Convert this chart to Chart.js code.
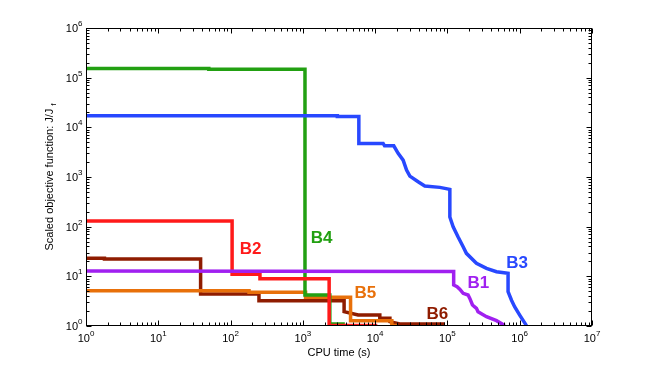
<!DOCTYPE html>
<html>
<head>
<meta charset="utf-8">
<script src="https://cdn.jsdelivr.net/npm/chart.js@4"></script>
<style>
  html, body { margin: 0; padding: 0; background: #fff; }
  #wrap { width: 654px; height: 367px; }
</style>
</head>
<body>
<div id="wrap"><canvas id="c" width="654" height="367"></canvas></div>
<script>
// Series (CPU time in s, scaled objective J/Jf).
const b1Time = [1, 1.22e5, 1.22e5, 1.36e5, 1.48e5, 1.65e5, 1.93e5, 2.04e5, 2.22e5, 2.52e5, 2.65e5, 3.47e5, 4.77e5, 6.2e5];
const b1Obj  = [12.8, 12.5, 6.7, 6.2, 5.5, 4.55, 4.2, 3.6, 2.65, 2.27, 1.94, 1.54, 1.28, 1.02];

const b2Time = [1, 105, 105, 255, 255, 2310, 2310, 1.07e4];
const b2Obj  = [130, 130, 11, 11, 8.9, 8.9, 1.02, 1.02];

const b3Time = [1, 3000, 3000, 5950, 5950, 1.29e4, 1.35e4, 1.81e4, 2.08e4, 2.44e4, 2.72e4, 3.02e4, 3.93e4, 4.86e4, 7.84e4, 1.08e5, 1.08e5, 1.2e5, 1.4e5, 1.65e5, 1.83e5, 2.52e5, 3.47e5, 4.77e5, 6.9e5, 6.9e5, 7.7e5, 8.5e5, 1.0e6, 1.24e6];
const b3Obj  = [1.72e4, 1.72e4, 1.65e4, 1.65e4, 4750, 4750, 4250, 4250, 2990, 2190, 1380, 1040, 800, 656, 618, 563, 156, 99.5, 62.7, 39.4, 29, 18.3, 14.5, 12.4, 11.5, 4.9, 3.3, 2.44, 1.66, 1.02];

const b4Time = [1, 50, 50, 1070, 1070, 2360, 2360, 3810];
const b4Obj  = [1.53e5, 1.53e5, 1.48e5, 1.48e5, 4.2, 4.2, 1.1, 1.1];

const b5Time = [1, 180, 180, 1090, 1090, 4570, 4570, 1.7e4, 1.7e4, 2.0e4];
const b5Obj  = [5.15, 5.15, 4.8, 4.8, 3.8, 3.8, 1.28, 1.28, 1.02, 1.02];

const b6Time = [1, 1.8, 1.8, 38.5, 38.5, 247, 247, 3720, 3720, 5820, 1.16e4, 1.16e4, 1.6e4, 1.6e4, 2.19e4, 9.2e4];
const b6Obj  = [23, 23, 22.3, 22.3, 4.4, 4.4, 3.23, 3.23, 1.94, 1.66, 1.66, 1.43, 1.43, 1.22, 1.1, 1.1];

const seriesNames  = ['B1', 'B2', 'B3', 'B4', 'B5', 'B6'];
const seriesTimes  = [b1Time, b2Time, b3Time, b4Time, b5Time, b6Time];
const seriesObjs   = [b1Obj, b2Obj, b3Obj, b4Obj, b5Obj, b6Obj];
const seriesColors = ['#a020f0', '#ff1a1a', '#2848ff', '#22a012', '#e8700a', '#8f1c00'];

// where each curve's name sits, in data units (left edge, baseline)
const nameTime = [1.89e5, 134, 6.53e5, 1282, 5190, 5.13e4];
const nameObj  = [5.93, 28.6, 15, 47.5, 3.73, 1.41];

const xTickExps = [0, 1, 2, 3, 4, 5, 6, 7];
const yTickExps = [0, 1, 2, 3, 4, 5, 6];
const xTitle = 'CPU time (s)';
const yTitle = 'Scaled objective function: J/J';
const yTitleSub = 'f';

const FONT = '"Liberation Sans", Arial, Helvetica, sans-serif';

const datasets = seriesNames.map(function (name, i) {
    return {
        label: name,
        data: seriesTimes[i].map(function (t, j) { return { x: t, y: seriesObjs[i][j] }; }),
        showLine: true,
        borderColor: seriesColors[i],
        backgroundColor: seriesColors[i],
        borderWidth: 3.5,
        pointRadius: 0,
        tension: 0
    };
});

// MATLAB-style box, inward ticks, 10^n labels and annotations.
const frame = {
    id: 'frame',
    afterDatasetsDraw(chart) {
        const ctx = chart.ctx;
        const a = chart.chartArea;
        const x = chart.scales.x, y = chart.scales.y;
        const L = Math.round(a.left) + 0.5, R = Math.round(a.right) - 0.5;
        const T = Math.round(a.top) + 0.5, B = Math.round(a.bottom) - 0.5;
        ctx.save();

        // curve names
        ctx.font = 'bold 17px ' + FONT;
        ctx.textAlign = 'left';
        ctx.textBaseline = 'alphabetic';
        seriesNames.forEach(function (n, i) {
            ctx.fillStyle = seriesColors[i];
            ctx.fillText(n, x.getPixelForValue(nameTime[i]), y.getPixelForValue(nameObj[i]));
        });

        ctx.strokeStyle = '#000';
        ctx.lineWidth = 1;
        ctx.strokeRect(L, T, R - L, B - T);

        ctx.beginPath();
        xTickExps.forEach(function (e) {
            for (let m = 1; m <= 9; m++) {
                if (e === xTickExps[xTickExps.length - 1] && m > 1) break;
                const px = Math.round(x.getPixelForValue(m * Math.pow(10, e))) + 0.5;
                const len = m === 1 ? 5 : 3;
                ctx.moveTo(px, B); ctx.lineTo(px, B - len);
                ctx.moveTo(px, T); ctx.lineTo(px, T + len);
            }
        });
        yTickExps.forEach(function (e) {
            for (let m = 1; m <= 9; m++) {
                if (e === yTickExps[yTickExps.length - 1] && m > 1) break;
                const py = Math.round(y.getPixelForValue(m * Math.pow(10, e))) + 0.5;
                const len = m === 1 ? 5 : 3;
                ctx.moveTo(L, py); ctx.lineTo(L + len, py);
                ctx.moveTo(R, py); ctx.lineTo(R - len, py);
            }
        });
        ctx.stroke();

        // tick labels
        ctx.fillStyle = '#000';
        const big = '11px ' + FONT, small = '8px ' + FONT;
        xTickExps.forEach(function (e) {
            const px = x.getPixelForValue(Math.pow(10, e));
            ctx.font = big; const w1 = ctx.measureText('10').width;
            ctx.font = small; const w2 = ctx.measureText(String(e)).width;
            const sx = px - (w1 + w2) / 2;
            ctx.font = big; ctx.textAlign = 'left';
            ctx.fillText('10', sx, 342);
            ctx.font = small;
            ctx.fillText(String(e), sx + w1, 336);
        });
        yTickExps.forEach(function (e) {
            const py = y.getPixelForValue(Math.pow(10, e));
            ctx.font = small; const w2 = ctx.measureText(String(e)).width;
            const ex = L - 4 - w2;
            ctx.textAlign = 'left';
            ctx.fillText(String(e), ex, py - 2);
            ctx.font = big; ctx.textAlign = 'right';
            ctx.fillText('10', ex, py + 4);
        });

        // axis titles
        ctx.font = big;
        ctx.textAlign = 'center';
        ctx.fillText(xTitle, (a.left + a.right) / 2, 356);

        ctx.font = big; const tw = ctx.measureText(yTitle).width;
        ctx.font = small; const sw = ctx.measureText(yTitleSub).width;
        const gap = 3;
        const total = tw + gap + sw;
        ctx.translate(53, (a.top + a.bottom) / 2);
        ctx.rotate(-Math.PI / 2);
        ctx.textAlign = 'left';
        ctx.font = big;
        ctx.fillText(yTitle, -total / 2, 0);
        ctx.font = small;
        ctx.fillText(yTitleSub, -total / 2 + tw + gap, 3);
        ctx.restore();
    }
};

new Chart(document.getElementById('c').getContext('2d'), {
    type: 'scatter',
    data: { datasets: datasets },
    options: {
        responsive: false,
        animation: false,
        layout: { padding: { left: 86, right: 62, top: 28, bottom: 41 } },
        plugins: { legend: { display: false }, tooltip: { enabled: false } },
        scales: {
            x: { type: 'logarithmic', min: 1, max: 1e7, display: false },
            y: { type: 'logarithmic', min: 1, max: 1e6, display: false }
        }
    },
    plugins: [frame]
});
</script>
</body>
</html>
